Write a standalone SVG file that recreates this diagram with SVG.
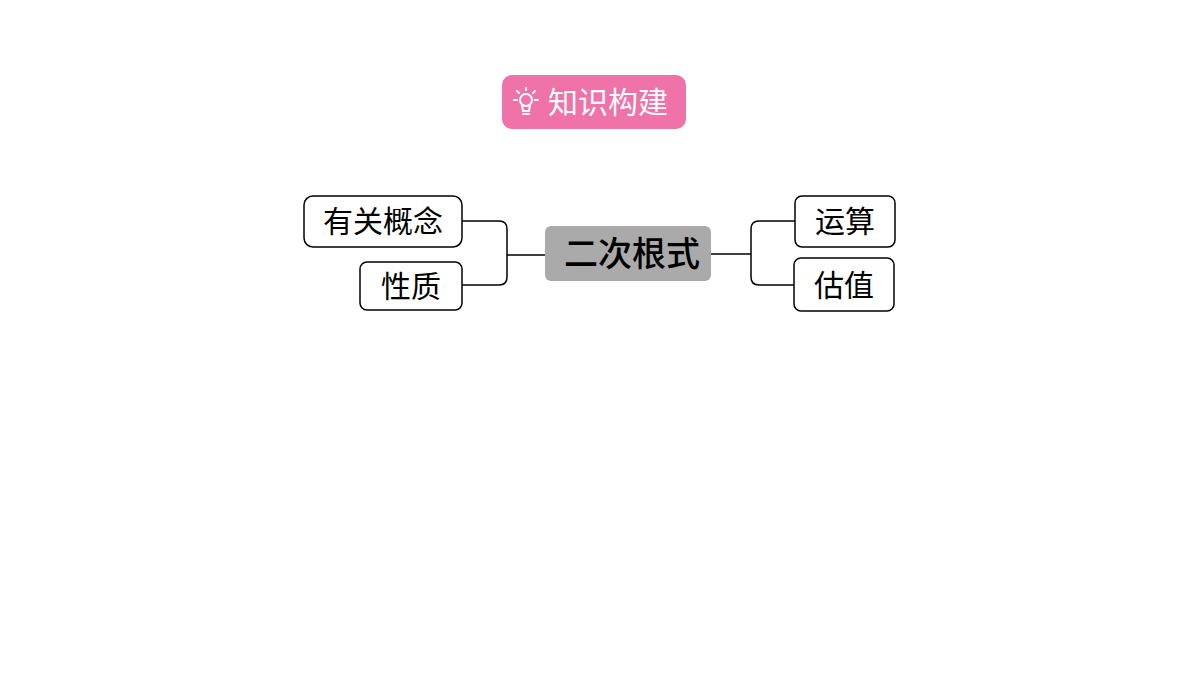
<svg xmlns="http://www.w3.org/2000/svg" width="1200" height="675" viewBox="0 0 1200 675">
<style>
.t{font-family:"Noto Sans CJK SC","Noto Sans",sans-serif;}
.box{fill:#fff;stroke:#000;stroke-width:1.5;}
.lbl{font-size:30px;fill:#000;text-anchor:middle;}
.con{fill:none;stroke:#000;stroke-width:1.5;}
</style>
<rect width="1200" height="675" fill="#fff"/>
<g id="title">
<rect x="502" y="75" width="184" height="54" rx="10" fill="#EF72A8"/>
<g fill="none" stroke="#fff" stroke-width="2" stroke-linecap="round">
<circle cx="526" cy="100" r="6"/>
<path d="M522 105 L523 111 L529 111 L530 105 M523 114 L529 114 M526 90 L526 88 M517 100 L514 100 M535 100 L538 100 M519 93 L517 91 M533 93 L535 91"/>
</g>
<text class="t" x="608" y="113" font-size="30" fill="#fff" text-anchor="middle">知识构建</text>
</g>
<g id="connectors">
<path class="con" d="M462 221 H499 Q507 221 507 229 V277 Q507 285 499 285 H462 M507 255 H545"/>
<path class="con" d="M795 221 H759 Q751 221 751 229 V277 Q751 285 759 285 H794 M711 254 H751"/>
</g>
<g id="center">
<rect x="545" y="226" width="166" height="55" rx="6" fill="#AAAAAA"/>
<text class="t" x="632" y="266" font-size="34" font-weight="500" text-anchor="middle">二次根式</text>
</g>
<g id="n1"><rect class="box" x="304" y="196" width="158" height="51" rx="9"/><text class="t lbl" x="383" y="232">有关概念</text></g>
<g id="n2"><rect class="box" x="360" y="262" width="102" height="48" rx="7"/><text class="t lbl" x="411" y="297">性质</text></g>
<g id="n3"><rect class="box" x="795" y="196" width="100" height="51" rx="7"/><text class="t lbl" x="845" y="232">运算</text></g>
<g id="n4"><rect class="box" x="794" y="258" width="100" height="53" rx="7"/><text class="t lbl" x="844" y="296">估值</text></g>
</svg>
